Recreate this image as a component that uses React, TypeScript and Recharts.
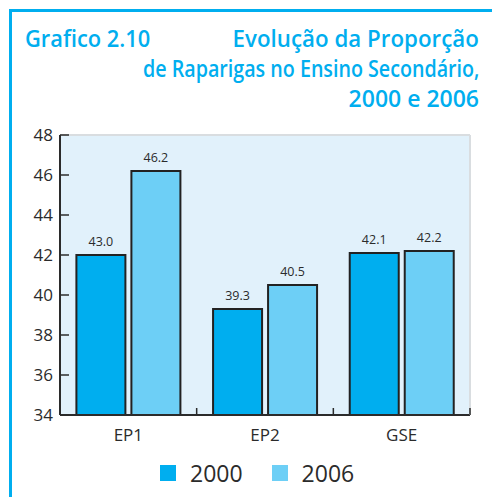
import React from 'react';
import { BarChart, Bar, XAxis, YAxis, CartesianGrid, Legend, LabelList, ReferenceLine } from 'recharts';

const categories = ['EP1', 'EP2', 'GSE'];
// bar heights as drawn, and the printed labels (EP1 2000 is drawn at 42 but labelled 43.0)
const values2000 = [42.0, 39.3, 42.1];
const values2006 = [46.2, 40.5, 42.2];
const labels2000 = ['43.0', '39.3', '42.1'];
const labels2006 = ['46.2', '40.5', '42.2'];
const yTicks = [34, 36, 38, 40, 42, 44, 46, 48];
const titleLines = ['Evolução da Proporção', 'de Raparigas no Ensino Secondário,', '2000 e 2006'];
const titleScales = [0.97, 0.855, 1.0];

const CYAN = '#00aeef';
const DARK = '#00aeef';
const LIGHT = '#6dcff6';
const INK = '#2b2b2b';
const FONT = '"Open Sans", "Noto Sans", sans-serif';

const data = categories.map((c, i) => ({
  name: c,
  y2000: values2000[i],
  y2006: values2006[i],
  l2000: labels2000[i],
  l2006: labels2006[i],
}));

const CategoryTick = (props: any) => {
  const { x, y, payload } = props;
  const half = payload.offset || 0;
  return (
    <g>
      <line x1={x + half} x2={x + half} y1={y - 8} y2={y - 15} stroke={INK} strokeWidth={1.5} />
      <text x={x} y={y + 18} textAnchor="middle" fontSize={17} fill={INK} fontFamily={FONT}>
        {payload.value}
      </text>
    </g>
  );
};

const LegendContent = (props: any) => {
  const items = props.payload || [];
  return (
    <div style={{ display: 'flex', alignItems: 'center', paddingLeft: 150, height: 26 }}>
      {items.map((it: any, i: number) => (
        <div key={i} style={{ display: 'flex', alignItems: 'center', marginRight: 29 }}>
          <span style={{ width: 16, height: 16, background: it.color, display: 'inline-block', marginRight: 14 }} />
          <span style={{ fontSize: 23, color: INK, fontFamily: FONT, lineHeight: '26px' }}>{it.value}</span>
        </div>
      ))}
    </div>
  );
};

const titleStyle: React.CSSProperties = {
  position: 'absolute',
  color: CYAN,
  fontFamily: FONT,
  fontWeight: 600,
  fontSize: 23,
  lineHeight: '30px',
  whiteSpace: 'nowrap',
};

export default function App() {
  return (
    <div style={{ position: 'absolute', left: 0, top: 0, width: 492, height: 497, background: '#fff', overflow: 'hidden' }}>
      <div style={{ position: 'absolute', left: 9, top: 9, width: 500, height: 500, borderTop: `3px solid ${CYAN}`, borderLeft: `3px solid ${CYAN}` }} />
      <div style={{ ...titleStyle, left: 25, top: 23, transform: 'scaleX(0.95)', transformOrigin: 'left center' }}>Grafico 2.10</div>
      {titleLines.map((line, i) => (
        <div
          key={i}
          style={{ ...titleStyle, right: 13, top: 23 + i * 30, textAlign: 'right', transform: `scaleX(${titleScales[i]})`, transformOrigin: 'right center' }}
        >
          {line}
        </div>
      ))}
      <div style={{ position: 'absolute', left: 0, top: 120 }}>
        <BarChart
          width={492}
          height={377}
          data={data}
          margin={{ top: 15, right: 21, left: 10, bottom: 11 }}
          barCategoryGap="12%"
          barGap={6}
        >
          <CartesianGrid fill="#e1f1fb" horizontal={false} vertical={false} />
          <ReferenceLine y={48} stroke="#d9dde0" strokeWidth={2} />
          <XAxis
            dataKey="name"
            height={45}
            axisLine={{ stroke: INK, strokeWidth: 2 }}
            tickLine={false}
            tick={<CategoryTick />}
            interval={0}
          />
          <YAxis
            domain={[34, 48]}
            ticks={yTicks}
            width={50}
            axisLine={{ stroke: INK, strokeWidth: 2 }}
            tickLine={{ stroke: INK, strokeWidth: 1.5 }}
            tickSize={-9}
            tickMargin={16}
            tick={{ fontSize: 17, fill: INK, fontFamily: FONT }}
            allowDataOverflow
          />
          <YAxis yAxisId="r" orientation="right" width={1} tick={false} tickLine={false} axisLine={{ stroke: '#d9dde0', strokeWidth: 2 }} />
          <Legend verticalAlign="bottom" content={<LegendContent />} wrapperStyle={{ height: 26 }} />
          <Bar dataKey="y2000" name="2000" fill={DARK} stroke="#222" strokeWidth={2} isAnimationActive={false}>
            <LabelList dataKey="l2000" position="top" offset={9} fontSize={12.5} fill={INK} fontFamily={FONT} />
          </Bar>
          <Bar dataKey="y2006" name="2006" fill={LIGHT} stroke="#222" strokeWidth={2} isAnimationActive={false}>
            <LabelList dataKey="l2006" position="top" offset={9} fontSize={12.5} fill={INK} fontFamily={FONT} />
          </Bar>
        </BarChart>
      </div>
    </div>
  );
}
